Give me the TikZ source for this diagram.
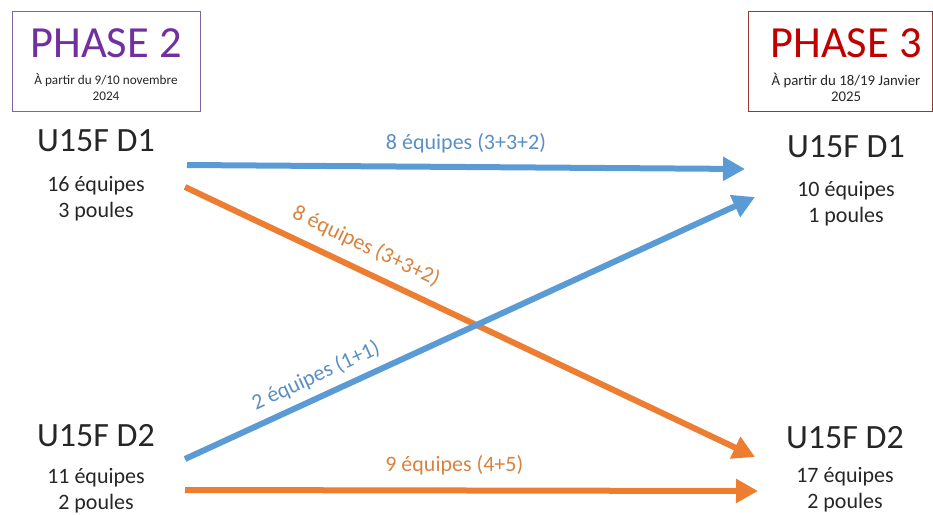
\documentclass[tikz,border=0pt]{standalone}
\usepackage{fontspec}
\setmainfont{Carlito}
\usetikzlibrary{arrows.meta}
\definecolor{bleuFleche}{HTML}{5B9BD5}
\definecolor{orangeFleche}{HTML}{ED7D31}
\definecolor{bleuTexte}{HTML}{5A8FC4}
\definecolor{orangeTexte}{HTML}{D9823E}
\definecolor{violetPhase}{HTML}{7030A0}
\definecolor{violetCadre}{HTML}{8064A2}
\definecolor{rougePhase}{HTML}{C00000}
\definecolor{rougeCadre}{HTML}{953735}
\begin{document}
\begin{tikzpicture}[x=1pt,y=-1pt,every node/.style={inner sep=0pt},
    cadre/.style={draw,line width=1pt,minimum width=#1,minimum height=100pt},
    phase/.style={font=\fontsize{44.5}{46}\selectfont},
    date/.style={font=\fontsize{#1}{16}\selectfont,align=center,text=black!85},
    equipe/.style={font=\fontsize{34}{36}\selectfont,text=black!85},
    detail/.style={font=\fontsize{22}{26}\selectfont,align=center,text=black!85},
    fleche/.style={line width=6pt,-{Triangle[length=22pt,width=23pt]}},
    etiquette/.style={font=\fontsize{22}{24}\selectfont}]
    \useasboundingbox (0,0) rectangle (933,514);
    % cadres des phases
    \node[cadre=188pt,draw=violetCadre] (cadre2) at (106,61) {};
    \node[phase,text=violetPhase] (titre2) at (106,43) {PHASE 2};
    \node[date=13.2] (date2) at (106,87) {À partir du 9/10 novembre\\2024};
    \node[cadre=184pt,draw=rougeCadre] (cadre3) at (840,61) {};
    \node[phase,text=rougePhase] (titre3) at (846,43) {PHASE 3};
    \node[date=14.8] (date3) at (846,87) {À partir du 18/19 Janvier\\2025};
    % poules
    \node[equipe] (p2d1) at (96,141) {U15F D1};
    \node[detail] (p2d1info) at (96,199) {16 équipes\\3 poules};
    \node[equipe] (p2d2) at (96,436) {U15F D2};
    \node[detail] (p2d2info) at (96,491) {11 équipes\\2 poules};
    \node[equipe] (p3d1) at (846,147) {U15F D1};
    \node[detail] (p3d1info) at (846,204) {10 équipes\\1 poules};
    \node[equipe] (p3d2) at (845,438) {U15F D2};
    \node[detail] (p3d2info) at (845,490) {17 équipes\\2 poules};
    % extremites des fleches
    \coordinate (p2d1-a) at (187,165);
    \coordinate (p2d1-b) at (185,187);
    \coordinate (p2d2-a) at (185,459);
    \coordinate (p2d2-b) at (185,490);
    \coordinate (p3d1-a) at (745,169);
    \coordinate (p3d1-b) at (755,197);
    \coordinate (p3d2-a) at (755,457);
    \coordinate (p3d2-b) at (758,491);
    % fleches
    \draw[fleche,bleuFleche] (p2d1-a) -- (p3d1-a)
        node[etiquette,text=bleuTexte,midway,above=11pt] (e1) {8 équipes (3+3+2)};
    \draw[fleche,orangeFleche] (p2d1-b) -- (p3d2-a)
        node[etiquette,text=orangeTexte,pos=.30,sloped,above=11pt] (e2) {8 équipes (3+3+2)};
    \draw[fleche,bleuFleche] (p2d2-a) -- (p3d1-b)
        node[etiquette,text=bleuTexte,pos=.245,sloped,above=8pt] (e3) {2 équipes (1+1)};
    \draw[fleche,orangeFleche] (p2d2-b) -- (p3d2-b)
        node[etiquette,text=orangeTexte,pos=.47,above=12pt] (e4) {9 équipes (4+5)};
\end{tikzpicture}
\end{document}
